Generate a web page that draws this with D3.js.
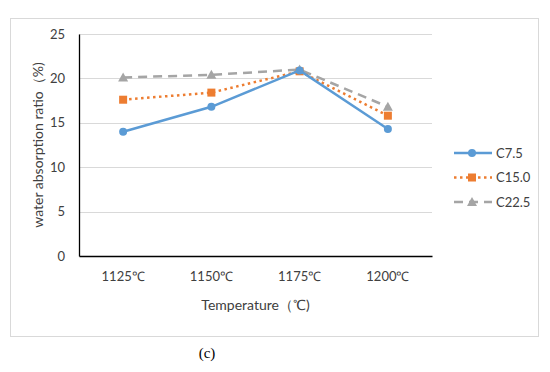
<!DOCTYPE html>
<html>
<head>
<meta charset="utf-8">
<script src="https://cdn.jsdelivr.net/npm/d3@7"></script>
<style>
  body { margin: 0; background: #fff; }
  text { font-family: Lato, "Open Sans", sans-serif; fill: #404040; }
</style>
</head>
<body>
<div class="container"></div>
<script>
const w = 550;
const h = 372;

const temps = ['1125℃', '1150℃', '1175℃', '1200℃'];
const seriesNames = ['C7.5', 'C15.0', 'C22.5'];
const c75 = [14.0, 16.8, 20.9, 14.3];
const c150 = [17.6, 18.4, 20.8, 15.8];
const c225 = [20.1, 20.4, 21.0, 16.8];
const yTicks = [0, 5, 10, 15, 20, 25];

const series = [
    { name: seriesNames[0], values: c75, color: '#5B9BD5', dash: null, marker: 'circle' },
    { name: seriesNames[1], values: c150, color: '#ED7D31', dash: '2.5,3.5', marker: 'square' },
    { name: seriesNames[2], values: c225, color: '#A5A5A5', dash: '9,6', marker: 'triangle' }
];

const plot = { left: 79, right: 432, top: 34, bottom: 256 };

const svg = d3.select('.container')
    .append('svg')
    .attr('width', w)
    .attr('height', h);

// outer frame
svg.append('rect')
    .attr('x', 10.5)
    .attr('y', 18.5)
    .attr('width', 528)
    .attr('height', 318)
    .attr('fill', '#fff')
    .attr('stroke', '#D9D9D9');

const xScale = d3.scaleBand()
    .domain(temps)
    .range([plot.left, plot.right]);

const yScale = d3.scaleLinear()
    .domain([0, 25])
    .range([plot.bottom, plot.top]);

// grid
svg.append('g')
    .selectAll('line')
    .data(yTicks.filter(d => d > 0))
    .enter()
    .append('line')
    .attr('x1', plot.left)
    .attr('x2', plot.right)
    .attr('y1', d => Math.round(yScale(d)) + 0.5)
    .attr('y2', d => Math.round(yScale(d)) + 0.5)
    .attr('stroke', '#D9D9D9');

// y axis
const yAxis = svg.append('g')
    .attr('transform', `translate(${plot.left}, 0)`)
    .call(d3.axisLeft(yScale).tickValues(yTicks).tickSize(0).tickPadding(14));
yAxis.select('.domain').attr('stroke', '#000').attr('stroke-width', 1.3);
yAxis.selectAll('text').style('font-size', '13px').attr('fill', '#404040');

// x axis
const xAxis = svg.append('g')
    .attr('transform', `translate(0, ${plot.bottom})`)
    .call(d3.axisBottom(xScale).tickSize(0).tickPadding(16));
xAxis.select('.domain').attr('stroke', '#000').attr('stroke-width', 1.3);
xAxis.selectAll('text').style('font-size', '13px').attr('fill', '#404040');

// axis titles
svg.append('text')
    .attr('x', (plot.left + plot.right) / 2)
    .attr('y', 310)
    .attr('text-anchor', 'middle')
    .style('font-size', '14px')
    .text('Temperature（℃)');

svg.append('text')
    .attr('transform', `translate(43, ${(plot.top + plot.bottom) / 2}) rotate(-90)`)
    .attr('text-anchor', 'middle')
    .style('font-size', '14px')
    .text('water absorption ratio（%)');

svg.append('text')
    .attr('x', 207)
    .attr('y', 358)
    .attr('text-anchor', 'middle')
    .style('font-family', '"Liberation Serif", serif')
    .style('font-size', '15px')
    .style('fill', '#000')
    .text('(c)');

const xc = d => xScale(d) + xScale.bandwidth() / 2;

function drawMarker(g, type, x, y, color) {
    if (type === 'circle') {
        g.append('circle').attr('cx', x).attr('cy', y).attr('r', 4).attr('fill', color);
    } else if (type === 'square') {
        g.append('rect').attr('x', x - 4).attr('y', y - 4).attr('width', 8).attr('height', 8).attr('fill', color);
    } else {
        g.append('path')
            .attr('d', `M${x},${y - 5}L${x + 5},${y + 4}L${x - 5},${y + 4}Z`)
            .attr('fill', color);
    }
}

const line = d3.line()
    .x((d, i) => xc(temps[i]))
    .y(d => yScale(d));

series.slice().reverse().forEach(s => {
    const g = svg.append('g');
    g.append('path')
        .datum(s.values)
        .attr('d', line)
        .attr('fill', 'none')
        .attr('stroke', s.color)
        .attr('stroke-width', 2.5)
        .attr('stroke-dasharray', s.dash);
    s.values.forEach((v, i) => drawMarker(g, s.marker, xc(temps[i]), yScale(v), s.color));
});

// legend
series.forEach((s, i) => {
    const y = 153 + i * 24.5;
    const g = svg.append('g');
    g.append('line')
        .attr('x1', 454)
        .attr('x2', 492)
        .attr('y1', y)
        .attr('y2', y)
        .attr('stroke', s.color)
        .attr('stroke-width', 2.5)
        .attr('stroke-dasharray', s.dash);
    drawMarker(g, s.marker, 472, y, s.color);
    g.append('text')
        .attr('x', 496)
        .attr('y', y + 4.5)
        .style('font-size', '13px')
        .text(s.name);
});
</script>
</body>
</html>
